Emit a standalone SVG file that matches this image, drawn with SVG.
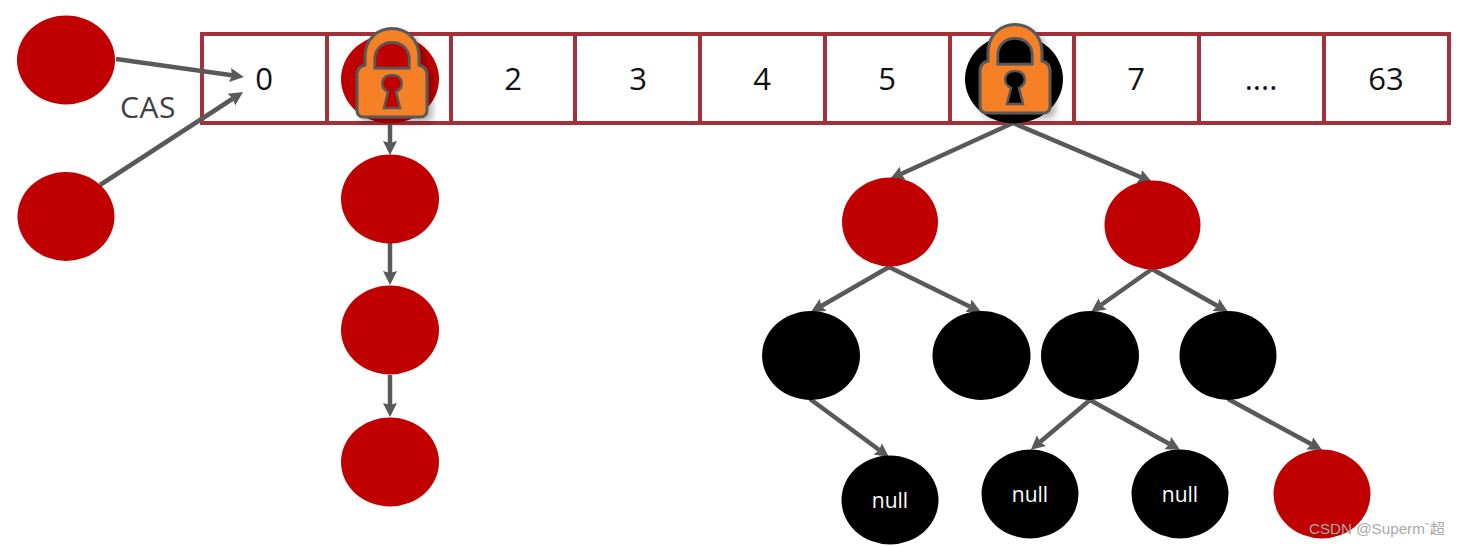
<svg xmlns="http://www.w3.org/2000/svg" width="1460" height="546" viewBox="0 0 1460 546">
<defs>
<marker id="arrow" markerUnits="userSpaceOnUse" markerWidth="16" markerHeight="15" refX="2" refY="7.5" orient="auto"><path d="M0 0.500L14 7.500L0 14.500L2 7.500Z" fill="#595959"/></marker>
<filter id="shadow" x="-20%" y="-20%" width="150%" height="150%"><feDropShadow dx="4" dy="4" stdDeviation="3" flood-color="#000" flood-opacity="0.3"/></filter>
</defs>
<style>
.cell{fill:#fff;stroke:#a5303a;stroke-width:4}
.idx{font:31px "Open Sans","Liberation Sans",sans-serif;fill:#111;text-anchor:middle}
.red{fill:#c00000}
.blk{fill:#000}
.null{font:21px "Open Sans","Liberation Sans",sans-serif;fill:#fff;text-anchor:middle}
.c{fill:none;stroke:#595959;stroke-width:4.500;marker-end:url(#arrow)}
.body{fill:#f58025;stroke:#595959;stroke-width:3}
</style>
<rect width="1460" height="546" fill="#fff"/>
<g id="table">
<rect class="cell" x="202" y="34" width="1247" height="89"/>
<path class="cell" d="M327 34V123M451 34V123M575 34V123M700 34V123M825 34V123M950 34V123M1074 34V123M1199 34V123M1324 34V123"/>
<text class="idx" x="264" y="90">0</text><text class="idx" x="513" y="90">2</text><text class="idx" x="638" y="90">3</text><text class="idx" x="762" y="90">4</text><text class="idx" x="887" y="90">5</text><text class="idx" x="1136" y="90">7</text><text class="idx" x="1261" y="90">....</text><text class="idx" x="1386" y="90">63</text>
</g>
<g id="connectors">
<path class="c" d="M116 59L232 75.300"/>
<path class="c" d="M100 185L233 98.500"/>
<path class="c" d="M390 122V143"/>
<path class="c" d="M390 243V273"/>
<path class="c" d="M390 375V405"/>
<path class="c" d="M1013 123L901 174"/>
<path class="c" d="M1013 123L1141 177.300"/>
<path class="c" d="M889 267L821.400 306"/>
<path class="c" d="M889 267L970.200 306.700"/>
<path class="c" d="M1152 269L1101 305"/>
<path class="c" d="M1152 269L1217.600 306"/>
<path class="c" d="M810 399L879.300 450"/>
<path class="c" d="M1090 400L1040 442"/>
<path class="c" d="M1090 400L1169.500 444"/>
<path class="c" d="M1228 399L1311.500 444.300"/>
</g>
<g id="n-a"><ellipse class="red" cx="66" cy="60" rx="49" ry="44.500"/></g>
<g id="n-b"><ellipse class="red" cx="66" cy="216.500" rx="48.500" ry="44.500"/></g>
<g id="n-cas"><text x="148" y="118" font-family="Open Sans, Liberation Sans, sans-serif" font-size="30" letter-spacing="0.500" fill="#404040" text-anchor="middle">CAS</text></g>
<g id="n-1"><ellipse class="red" cx="390" cy="79" rx="49" ry="44.500"/></g>
<g id="n-6"><ellipse class="blk" cx="1014" cy="79" rx="49" ry="44.500"/></g>
<g id="n-c"><ellipse class="red" cx="390" cy="199" rx="49" ry="44.500"/></g>
<g id="n-d"><ellipse class="red" cx="390" cy="330" rx="49" ry="44.500"/></g>
<g id="n-e"><ellipse class="red" cx="390" cy="462" rx="49" ry="44.500"/></g>
<g id="n-f"><ellipse class="red" cx="890" cy="222" rx="48" ry="44.500"/></g>
<g id="n-g"><ellipse class="red" cx="1152.500" cy="225" rx="48" ry="44.500"/></g>
<g id="n-h"><ellipse class="blk" cx="811" cy="355.500" rx="49" ry="44.500"/></g>
<g id="n-i"><ellipse class="blk" cx="981.500" cy="355.500" rx="49" ry="44.500"/></g>
<g id="n-j"><ellipse class="blk" cx="1090" cy="355.500" rx="49" ry="44.500"/></g>
<g id="n-k"><ellipse class="blk" cx="1228" cy="355.500" rx="48.500" ry="44.500"/></g>
<g id="n-l"><ellipse class="blk" cx="890" cy="500" rx="48.500" ry="44.500"/><text class="null" x="890" y="508">null</text></g>
<g id="n-m"><ellipse class="blk" cx="1030" cy="494" rx="48.500" ry="44.500"/><text class="null" x="1030" y="502">null</text></g>
<g id="n-n"><ellipse class="blk" cx="1180" cy="494" rx="48.500" ry="44.500"/><text class="null" x="1180" y="502">null</text></g>
<g id="n-o"><ellipse class="red" cx="1322" cy="494" rx="48.500" ry="44.500"/></g>
<g id="lock1" transform="translate(392,77)" filter="url(#shadow)">
<path class="body" fill-rule="evenodd" d="M-27 -12V-20C-27 -58 27 -58 27 -20V-12Q35 -10 35 -2V33Q35 40 28 40H-28Q-35 40 -35 33V-2Q-35 -10 -27 -12ZM-17 -9H17V-18C17 -40 -17 -40 -17 -18Z"/>
<path d="M-17 -9H17V-18C17 -40 -17 -40 -17 -18Z" fill="#c00000" stroke="#595959" stroke-width="2.500"/>
<path d="M-8 31L-4 15C-14 9 -10 -2 0 -2C10 -2 14 9 4 15L8 31Z" fill="#c00000" stroke="#595959" stroke-width="2.500"/>
</g>
<g id="lock2" transform="translate(1015,73)" filter="url(#shadow)">
<path class="body" fill-rule="evenodd" d="M-27 -12V-20C-27 -58 27 -58 27 -20V-12Q35 -10 35 -2V33Q35 40 28 40H-28Q-35 40 -35 33V-2Q-35 -10 -27 -12ZM-17 -9H17V-18C17 -40 -17 -40 -17 -18Z"/>
<path d="M-17 -9H17V-18C17 -40 -17 -40 -17 -18Z" fill="#000" stroke="#595959" stroke-width="2.500"/>
<path d="M-8 31L-4 15C-14 9 -10 -2 0 -2C10 -2 14 9 4 15L8 31Z" fill="#000" stroke="#595959" stroke-width="2.500"/>
</g>
<text x="1377" y="534" font-family="Liberation Sans, Noto Sans CJK SC, sans-serif" font-size="15.200" fill="#a8a8a8" text-anchor="middle">CSDN @Superm`超</text>
</svg>
